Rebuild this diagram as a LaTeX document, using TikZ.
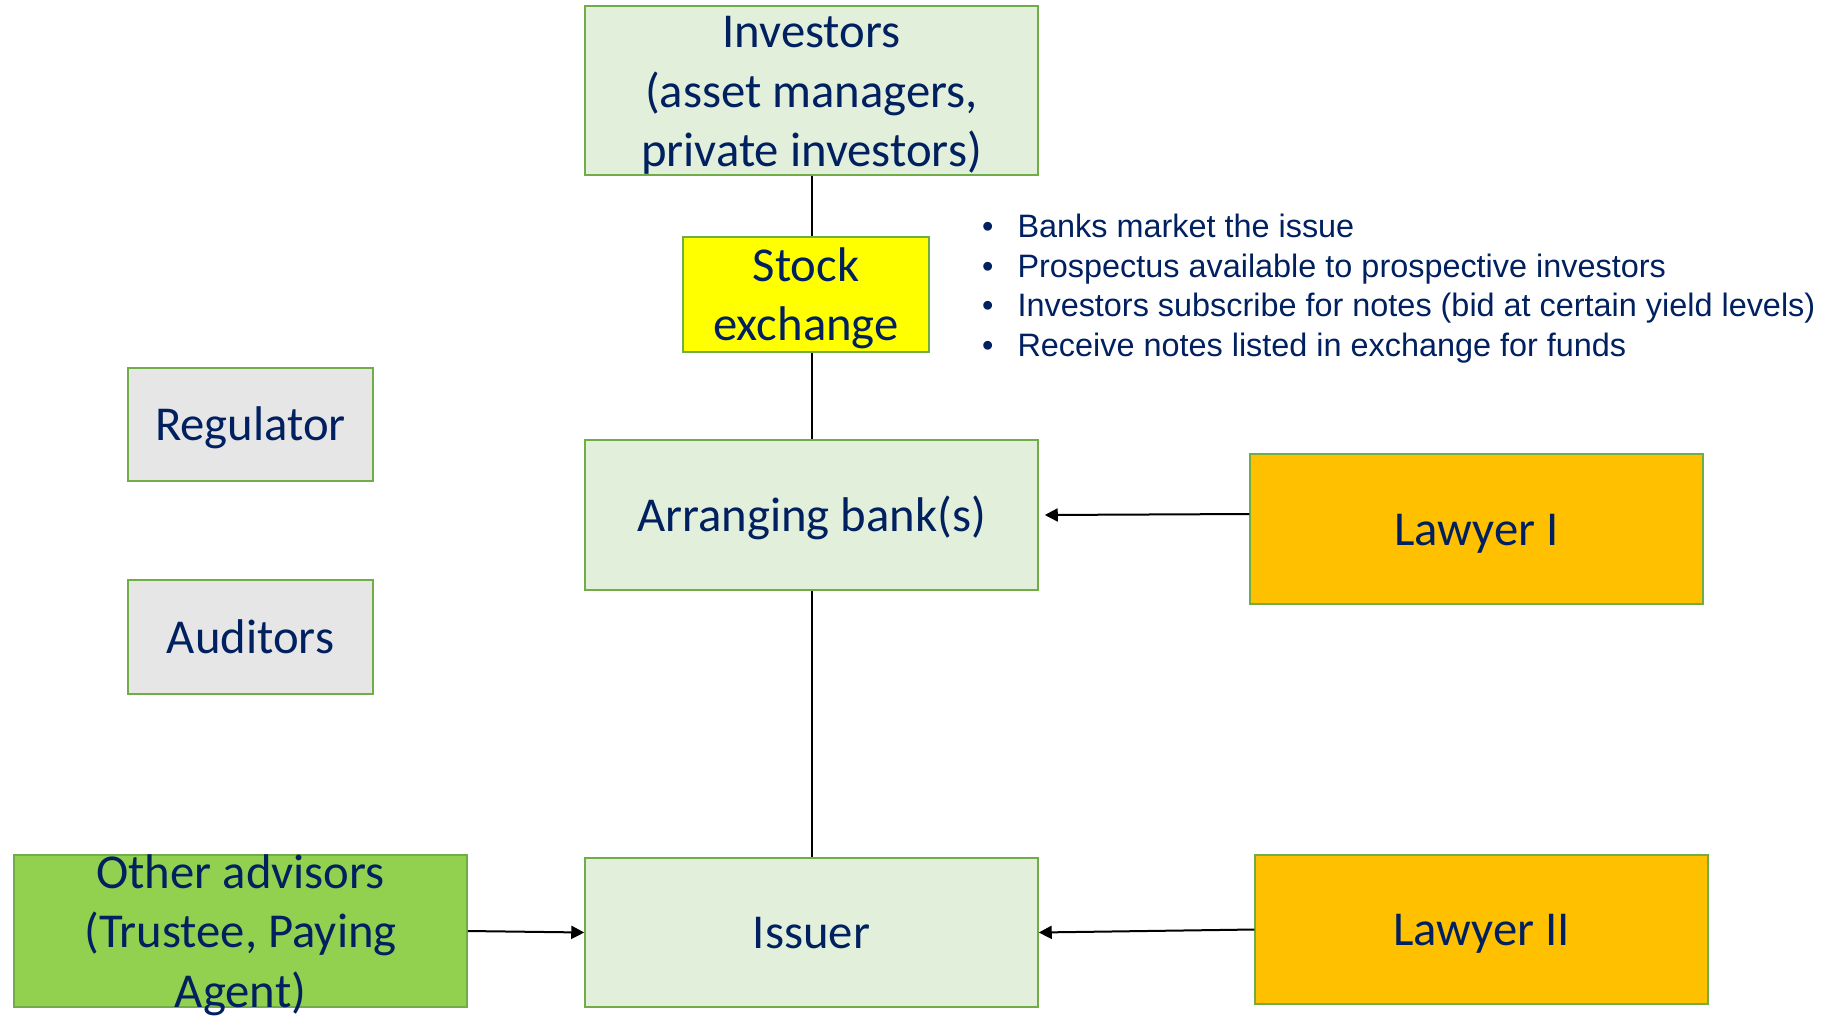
\documentclass[tikz,border=0pt]{standalone}
\usepackage{fontspec}
\setmainfont{Carlito}
\newfontfamily\arialfont{Liberation Sans}
\usetikzlibrary{arrows.meta}

\definecolor{navytext}{HTML}{002060}
\definecolor{paleGreen}{HTML}{E2EFDA}
\definecolor{edgeGreen}{HTML}{70AD47}
\definecolor{paleGray}{HTML}{E7E6E6}
\definecolor{brightYellow}{HTML}{FFFF00}
\definecolor{limeGreen}{HTML}{92D050}
\definecolor{amber}{HTML}{FFC000}

% stacked label lines with a taller first row, so the block sits like slide text
\newcommand{\boxlines}[1]{\begin{tabular}{@{}c@{}}\rule{0pt}{51pt}#1\end{tabular}}

\begin{document}
\begin{tikzpicture}[x=1pt,y=-1pt,
  % negative vertical padding lets long labels spill past the frame
  box/.style={draw=edgeGreen, line width=1.5pt, rectangle,
    inner xsep=0pt, inner ysep=-20pt,
    align=center, text=navytext,
    font=\fontsize{48.7}{59.4}\selectfont,
    % fixed ascent/descent for single-line labels
    execute at begin node={\rule{0pt}{44pt}},
    execute at end node={\rule[-12pt]{0pt}{12pt}}},
  party/.style={box, fill=paleGreen},
  outside/.style={box, fill=paleGray},
  counsel/.style={box, fill=amber},
  link/.style={draw=black, line width=2pt},
  flow/.style={link, -{Triangle[length=13pt,width=13pt]}},
  notes/.style={inner sep=0pt, text=navytext,
    font=\arialfont\fontsize{32.4}{39.5}\selectfont}
]
\useasboundingbox (0,0) rectangle (1827,1015);

% main chain
\node[party, minimum width=453pt, minimum height=169pt] (inv) at (811.5,90.5)
  {\boxlines{Investors\\ (asset managers,\\private investors)}};
\node[box, fill=brightYellow, minimum width=246pt, minimum height=115pt] (stock) at (806,294.5)
  {\boxlines{Stock\\exchange}};
\node[party, minimum width=453pt, minimum height=150pt] (arr) at (811.5,515)
  {Arranging bank(s)};
\node[party, minimum width=453pt, minimum height=149pt] (iss) at (811.5,932.5)
  {Issuer};

% side parties
\node[outside, minimum width=245pt, minimum height=113pt] (reg) at (250.5,424.5) {Regulator};
\node[outside, minimum width=245pt, minimum height=114pt] (aud) at (250.5,637) {Auditors};
\node[box, fill=limeGreen, minimum width=453pt, minimum height=152pt] (other) at (240.5,931)
  {\boxlines{Other advisors\\(Trustee, Paying\\Agent)}};
\node[counsel, minimum width=453pt, minimum height=150pt] (law1) at (1476.5,529) {Lawyer I};
\node[counsel, minimum width=453pt, minimum height=149pt] (law2) at (1481.5,929.5) {Lawyer II};

% process notes
\node[notes, anchor=north west] (steps) at (982,210) {%
  \begin{tabular}{@{}l@{\hspace{24pt}}l@{}}
  • & Banks market the issue\\
  • & Prospectus available to prospective investors\\
  • & Investors subscribe for notes (bid at certain yield levels)\\
  • & Receive notes listed in exchange for funds
  \end{tabular}};

% connectors
\draw[link] (inv.south) -- (inv.south |- stock.north);
\draw[link] (arr.north |- stock.south) -- (arr.north);
\draw[link] (arr.south) -- (iss.north);
\draw[flow] ([yshift=15pt]law1.west) -- ([xshift=6pt]arr.east);
\draw[flow] (other.east) -- (iss.west);
\draw[flow] (law2.west) -- (iss.east);
\end{tikzpicture}
\end{document}
